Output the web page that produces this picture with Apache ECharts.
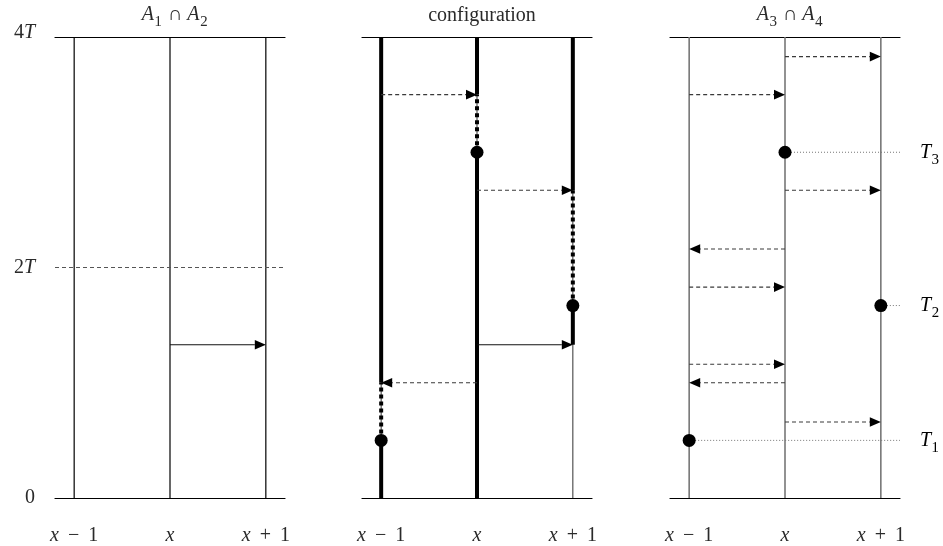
<!DOCTYPE html>
<html><head><meta charset="utf-8">
<script src="https://cdn.jsdelivr.net/npm/echarts@6/dist/echarts.min.js"></script>
<style>html,body{margin:0;padding:0;background:#fff}#c{width:943px;height:546px}</style>
</head><body><div id="c"></div><script>
// ---------- data ----------
const positions = [-1, 0, 1];
const positionLabels = ['{i|x}{n|\u2009 \u2212 \u20091}', '{i|x}', '{i|x}{n|\u2009 + \u20091}'];
const yTicks = [0, 2, 4];
const yTickLabels = ['{n|0}', '{n|2}{i|T}', '{u|4}{ui|T}'];
const panelTitles = ['{i|A}{s|\u2081}{n| \u2229 }{i|A}{s|\u2082}', '{n|configuration}', '{i|A}{s|\u2083}{n| \u2229 }{i|A}{s|\u2084}'];
const xMin = -1.2, xMax = 1.2, yMin = 0, yMax = 4;

// panel 1: A1 ∩ A2
const levels1 = [2];
const solidArrows1 = [[0, 1, 1.33]];
// panel 2: configuration
const dashedArrows2 = [[-1, 0, 3.5], [0, 1, 2.67], [0, -1, 1.0]];
const solidArrows2 = [[0, 1, 1.33]];
const thickSegs2 = [[-1, 0, 0.5], [-1, 1.0, 4], [0, 0, 3.0], [0, 3.5, 4], [1, 1.33, 1.67], [1, 2.67, 4]];
const dottedSegs2 = [[-1, 0.5, 1.0], [0, 3.0, 3.5], [1, 1.67, 2.67]];
const dots2 = [[-1, 0.5], [0, 3.0], [1, 1.67]];
// panel 3: A3 ∩ A4
const dashedArrows3 = [[0, 1, 3.83], [-1, 0, 3.5], [0, 1, 2.67], [0, -1, 2.16], [-1, 0, 1.83], [-1, 0, 1.16], [0, -1, 1.0], [0, 1, 0.66]];
const dots3 = [[-1, 0.5], [1, 1.67], [0, 3.0]];
const dotLabels3 = ['{i|T}{s|\u2081}', '{i|T}{s|\u2082}', '{i|T}{s|\u2083}'];

// ---------- style ----------
const FONT = 'Liberation Serif';
const TXT = '#2a2a2a';
const rich = {
  n: {fontFamily: FONT, fontSize: 20, fontWeight: 'normal', color: TXT},
  s: {fontFamily: FONT, fontSize: 25, fontWeight: 'normal', color: TXT},
  i: {fontFamily: FONT, fontSize: 20, fontWeight: 'normal', fontStyle: 'italic', color: TXT},
  u: {fontFamily: FONT, fontSize: 20, fontWeight: 'normal', color: TXT, padding: [0, 0, 9, 0]},
  ui: {fontFamily: FONT, fontSize: 20, fontWeight: 'normal', fontStyle: 'italic', color: TXT, padding: [0, 0, 9, 0]}
};
const gridLefts = [55, 362, 670];
const gridW = 230;
const titleTops = [-3, 1, -3];

const grids = gridLefts.map(l => ({left: l, width: gridW, top: 37, bottom: 48}));
const xAxes = [];
const yAxes = [];
gridLefts.forEach((l, g) => {
  xAxes.push({
    type: 'value', gridIndex: g, min: xMin, max: xMax, position: 'bottom',
    axisLine: {show: true, onZero: false, lineStyle: {color: '#000', width: 1.2}},
    axisTick: {show: false}, splitLine: {show: false},
    axisLabel: {
      show: true, customValues: positions, margin: 28,
      formatter: v => positionLabels[positions.indexOf(Math.round(v))], rich: rich
    }
  });
  xAxes.push({
    type: 'value', gridIndex: g, min: xMin, max: xMax, position: 'top',
    axisLine: {show: true, onZero: false, lineStyle: {color: '#000', width: 1.2}},
    axisTick: {show: false}, splitLine: {show: false}, axisLabel: {show: false}
  });
  yAxes.push({
    type: 'value', gridIndex: g, min: yMin, max: yMax, interval: 2,
    axisLine: {show: false}, axisTick: {show: false}, splitLine: {show: false},
    axisLabel: {
      show: g === 0, margin: 20, customValues: yTicks,
      formatter: v => yTickLabels[yTicks.indexOf(Math.round(v))], rich: rich
    }
  });
});

function segSeries(g, data, stroke, width, dash) {
  return {
    type: 'custom', xAxisIndex: 2 * g, yAxisIndex: g, data: data, silent: true,
    renderItem: (p, api) => {
      const a = api.coord([api.value(0), api.value(1)]);
      const b = api.coord([api.value(0), api.value(2)]);
      return {type: 'line', shape: {x1: a[0], y1: a[1], x2: b[0], y2: b[1]},
        style: {stroke: stroke, lineWidth: width, lineDash: dash || null, lineCap: 'butt'}};
    }
  };
}
function hSeries(g, data, stroke, width, dash) {
  // data: [xFrom, xTo, y]
  return {
    type: 'custom', xAxisIndex: 2 * g, yAxisIndex: g, data: data, silent: true,
    renderItem: (p, api) => {
      const a = api.coord([api.value(0), api.value(2)]);
      const b = api.coord([api.value(1), api.value(2)]);
      return {type: 'line', shape: {x1: a[0], y1: a[1], x2: b[0], y2: b[1]},
        style: {stroke: stroke, lineWidth: width, lineDash: dash || null}};
    }
  };
}
function arrowSeries(g, data, dashed) {
  return {
    type: 'custom', xAxisIndex: 2 * g, yAxisIndex: g, data: data, silent: true, z: 5,
    renderItem: (p, api) => {
      const a = api.coord([api.value(0), api.value(2)]);
      const b = api.coord([api.value(1), api.value(2)]);
      const dir = Math.sign(b[0] - a[0]);
      const L = 11, H = 4.8;
      const base = b[0] - dir * L;
      return {type: 'group', children: [
        {type: 'line', shape: {x1: a[0], y1: a[1], x2: base, y2: b[1]},
          style: {stroke: dashed ? '#3a3a3a' : '#111', lineWidth: 1.1, lineDash: dashed ? [4, 3] : null}},
        {type: 'polygon', shape: {points: [[b[0], b[1]], [base, b[1] - H], [base, b[1] + H]]},
          style: {fill: '#000'}}
      ]};
    }
  };
}
function dotSeries(g, data) {
  return {type: 'scatter', xAxisIndex: 2 * g, yAxisIndex: g, data: data, symbol: 'circle',
    symbolSize: 13, itemStyle: {color: '#000', opacity: 1}, silent: true, z: 10};
}

const baseLines = positions.map(x => [x, yMin, yMax]);
const series = [
  // panel 1
  segSeries(0, baseLines, '#000', 1.2),
  hSeries(0, levels1.map(y => [xMin, xMax - 0.02, y]), '#555', 1.1, [4, 3]),
  arrowSeries(0, solidArrows1, false),
  // panel 2
  segSeries(1, baseLines, '#444', 1.1),
  segSeries(1, thickSegs2, '#000', 4),
  segSeries(1, dottedSegs2, '#000', 4, [4, 3]),
  arrowSeries(1, dashedArrows2, true),
  arrowSeries(1, solidArrows2, false),
  dotSeries(1, dots2),
  // panel 3
  segSeries(2, baseLines, '#777', 1.6),
  hSeries(2, dots3.map(d => [d[0], xMax, d[1]]), '#777', 1, [1, 2]),
  arrowSeries(2, dashedArrows3, true),
  dotSeries(2, dots3),
  {
    type: 'custom', xAxisIndex: 4, yAxisIndex: 2, data: dots3, silent: true,
    renderItem: (p, api) => {
      const c = api.coord([xMax, api.value(1)]);
      return {type: 'text', x: c[0] + 20, y: c[1],
        style: {text: dotLabels3[p.dataIndex], rich: rich, verticalAlign: 'middle', align: 'left'}};
    }
  }
];

const titles = panelTitles.map((t, g) => ({
  text: t, left: gridLefts[g] + gridW / 2, top: titleTops[g], textAlign: 'center',
  textStyle: {rich: rich, fontWeight: 'normal'}
}));

const chart = echarts.init(document.getElementById('c'), null, {renderer: 'canvas'});
chart.setOption({
  animation: false,
  backgroundColor: '#fff',
  title: titles,
  grid: grids, xAxis: xAxes, yAxis: yAxes, series: series
});
</script></body></html>
